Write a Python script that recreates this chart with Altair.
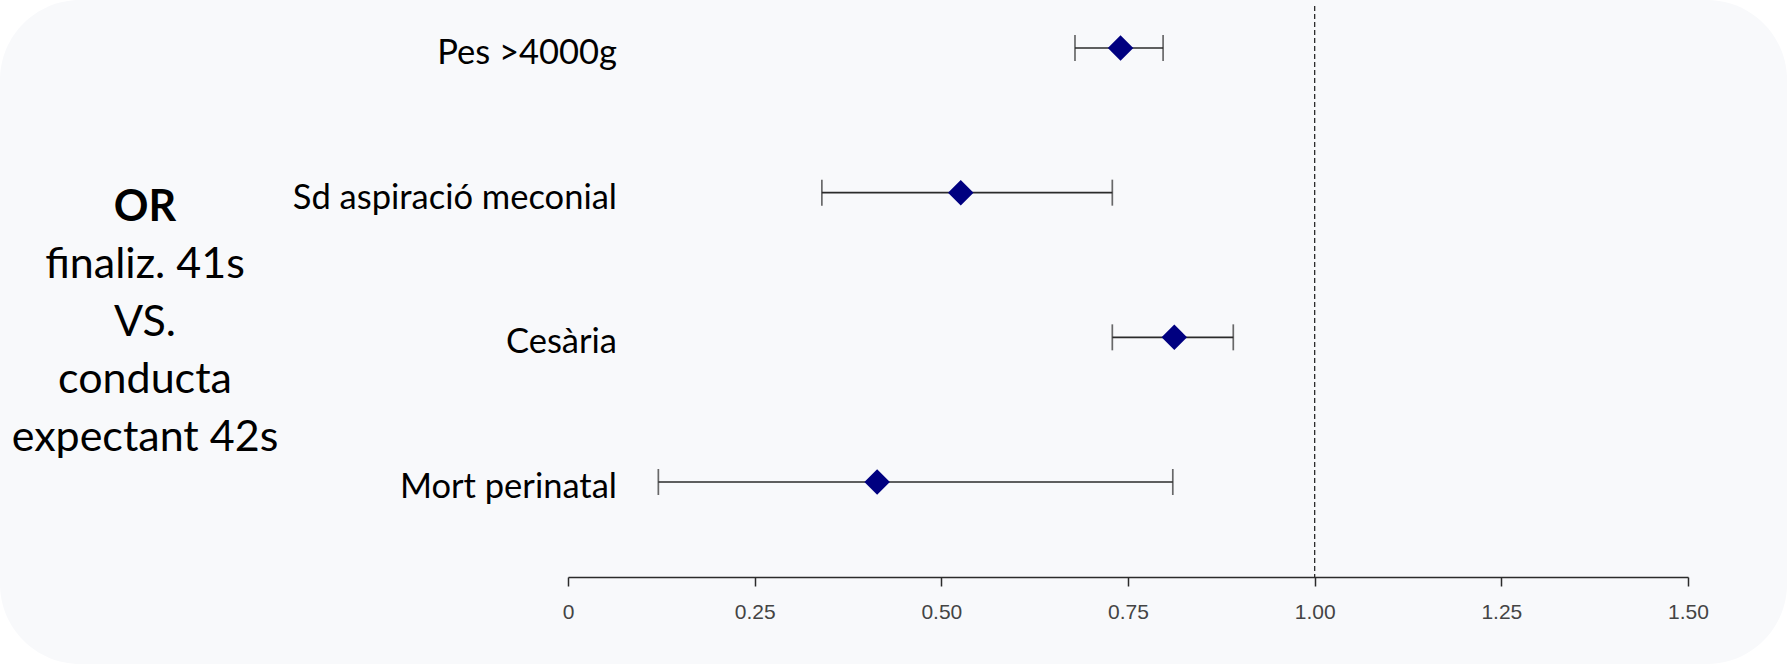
import altair as alt
import pandas as pd

# ---- data ----
outcomes = ["Pes >4000g", "Sd aspiració meconial", "Cesària", "Mort perinatal"]
or_values = [0.74, 0.526, 0.812, 0.414]
ci_low = [0.679, 0.340, 0.729, 0.121]
ci_high = [0.797, 0.729, 0.891, 0.810]
x_ticks = [0, 0.25, 0.5, 0.75, 1.0, 1.25, 1.5]
reference_line = [1.0]
side_title = "OR"
side_lines = ["finaliz. 41s", "VS.", "conducta", "expectant 42s"]

df = pd.DataFrame({"outcome": outcomes, "or": or_values, "lo": ci_low, "hi": ci_high})
ref_df = pd.DataFrame({"ref": reference_line})

LABEL_FONT = "Lato"
INK = "#2b2b2b"
BG = "#F8F9FB"

yscale = alt.Scale(type="point", domain=outcomes, range=[48, 482], padding=0)
xscale = alt.Scale(domain=[0, 1.5], nice=False, zero=False)

x_axis = alt.Axis(
    values=x_ticks,
    labelExpr="datum.value == 0 ? '0' : format(datum.value, '.2f')",
    title=None,
    grid=False,
    domainColor=INK,
    domainWidth=1.5,
    tickColor=INK,
    tickWidth=1.5,
    tickSize=9,
    labelFont="Liberation Sans",
    labelFontSize=21,
    labelColor="#444444",
    labelPadding=15,
    labelFlush=False,
    zindex=1,
)

# background panel with rounded corners
panel = alt.Chart(pd.DataFrame({"k": [0]})).mark_rect(
    fill=BG, cornerRadius=80
).encode(
    x=alt.value(-568), x2=alt.value(1219), y=alt.value(0), y2=alt.value(664)
)

ref_rule = alt.Chart(ref_df).mark_rule(
    color=INK, strokeWidth=1.3, strokeDash=[5, 3]
).encode(
    x=alt.X("ref:Q", scale=xscale, axis=x_axis),
    y=alt.value(6),
    y2=alt.value(577),
)

ci_line = alt.Chart(df).mark_rule(color=INK, strokeWidth=1.7).encode(
    x=alt.X("lo:Q", scale=xscale, axis=x_axis),
    x2="hi:Q",
    y=alt.Y("outcome:N", scale=yscale, axis=None),
)

cap_lo = alt.Chart(df).mark_tick(color=INK, thickness=1.7, size=26, orient="vertical").encode(
    x=alt.X("lo:Q", scale=xscale, axis=x_axis),
    y=alt.Y("outcome:N", scale=yscale, axis=None),
)
cap_hi = alt.Chart(df).mark_tick(color=INK, thickness=1.7, size=26, orient="vertical").encode(
    x=alt.X("hi:Q", scale=xscale, axis=x_axis),
    y=alt.Y("outcome:N", scale=yscale, axis=None),
)

points = alt.Chart(df).mark_point(
    shape="diamond", filled=True, color="#000080", opacity=1, size=650
).encode(
    x=alt.X("or:Q", scale=xscale, axis=x_axis),
    y=alt.Y("outcome:N", scale=yscale, axis=None),
)

labels = alt.Chart(df).mark_text(
    align="right", baseline="middle", font=LABEL_FONT, fontSize=34.5, color="black", dy=6
).encode(
    x=alt.value(49),
    y=alt.Y("outcome:N", scale=yscale, axis=None),
    text="outcome:N",
)

side_head = alt.Chart(pd.DataFrame({"t": [side_title]})).mark_text(
    align="center", baseline="alphabetic", font=LABEL_FONT, fontSize=43,
    fontWeight="bold", color="black"
).encode(x=alt.value(-423), y=alt.value(221), text="t:N")

side_body = alt.Chart(pd.DataFrame({"t": ["\n".join(side_lines)]})).mark_text(
    align="center", baseline="alphabetic", font=LABEL_FONT, fontSize=43,
    color="black", lineBreak="\n", lineHeight=57.5
).encode(x=alt.value(-423), y=alt.value(278), text="t:N")

chart = alt.layer(
    panel, ref_rule, ci_line, cap_lo, cap_hi, points, labels, side_head, side_body
).properties(
    width=1120,
    height=577,
    background="white",
    padding={"left": 568, "right": 99, "top": 0, "bottom": 87},
    autosize=alt.AutoSizeParams(type="none"),
).configure_view(stroke=None)

chart.save("out.html", embed_options={"renderer": "svg", "actions": False})
